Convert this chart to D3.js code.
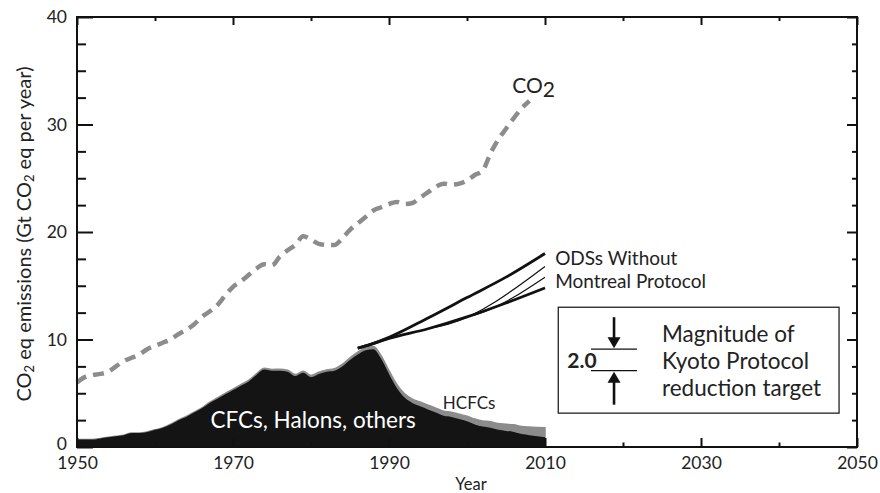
<!DOCTYPE html>
<html>
<head>
<meta charset="utf-8">
<script src="https://cdn.jsdelivr.net/npm/d3@7"></script>
<style>
  body { margin: 0; background: #fff; }
  text { font-family: Lato, "Open Sans", sans-serif; fill: #222; }
</style>
</head>
<body>
<svg id="chart" width="880" height="493"></svg>
<script>
// fossil CO2 emissions, Gt CO2 eq per year
const co2Years = d3.range(1950, 2009);
const co2Values = [
  6.0, 6.5, 6.7, 6.8, 7.0, 7.5, 8.0, 8.3, 8.6, 9.1,
  9.4, 9.7, 10.0, 10.5, 10.9, 11.4, 12.1, 12.6, 13.2, 14.1,
  14.9, 15.4, 16.0, 16.6, 17.0, 16.9, 17.7, 18.3, 18.8, 19.6,
  19.3, 18.9, 18.8, 18.8, 19.4, 20.2, 20.8, 21.4, 22.0, 22.3,
  22.6, 22.8, 22.6, 22.7, 23.2, 23.7, 24.2, 24.5, 24.4, 24.5,
  24.8, 25.3, 25.7, 27.3, 28.6, 29.6, 30.6, 31.5, 32.2,
];

// ODS emissions (stacked)
const odsYears = d3.range(1950, 2011);
const cfcValues = [
  0.7, 0.7, 0.7, 0.8, 0.9, 1.0, 1.1, 1.3, 1.3, 1.4,
  1.6, 1.8, 2.1, 2.5, 2.8, 3.2, 3.6, 4.1, 4.5, 4.9,
  5.3, 5.7, 6.1, 6.7, 7.2, 7.1, 7.1, 7.0, 6.6, 6.9,
  6.5, 6.8, 7.0, 7.1, 7.5, 8.1, 8.6, 9.0, 9.1, 8.2,
  6.8, 5.5, 4.6, 4.1, 3.8, 3.5, 3.2, 2.9, 2.8, 2.6,
  2.4, 2.1, 1.9, 1.8, 1.6, 1.5, 1.4, 1.2, 1.1, 1.0,
  0.9,
];
const hcfcValues = [
  0.0, 0.0, 0.0, 0.0, 0.0, 0.0, 0.0, 0.0, 0.0, 0.0,
  0.0, 0.0, 0.02, 0.03, 0.04, 0.05, 0.05, 0.06, 0.07, 0.08,
  0.09, 0.1, 0.1, 0.1, 0.12, 0.12, 0.13, 0.14, 0.15, 0.15,
  0.16, 0.16, 0.17, 0.18, 0.19, 0.2, 0.22, 0.24, 0.26, 0.28,
  0.3, 0.32, 0.34, 0.36, 0.38, 0.4, 0.42, 0.43, 0.44, 0.45,
  0.47, 0.5, 0.52, 0.55, 0.58, 0.62, 0.66, 0.7, 0.75, 0.82,
  0.9,
];

// ODS emissions without Montreal Protocol (scenario range)
const noMpUpperYears = [1986, 1987, 1990, 1995, 2000, 2005, 2010];
const noMpUpper = [9.2, 9.4, 10.2, 12.0, 13.9, 15.8, 18.0];
const noMpLowerYears = [1986, 1987, 1990, 1995, 2000, 2005, 2010];
const noMpLower = [9.2, 9.4, 10.1, 11.0, 12.1, 13.4, 14.8];
const noMpMid1Years = [1986, 1987, 1990, 1995, 1997.5, 2010];
const noMpMid1 = [9.2, 9.4, 10.1, 11.0, 11.4, 16.8];
const noMpMid2Years = [1986, 1987, 1990, 1995, 2000, 2001.5, 2010];
const noMpMid2 = [9.2, 9.4, 10.1, 11.0, 12.1, 12.4, 15.8];

const xMajorTicks = [1950, 1970, 1990, 2010, 2030, 2050];
const xMinorTicks = [1960, 1980, 2000, 2020, 2040];
const yMajorTicks = [0, 10, 20, 30, 40];
const yMinorTicks = [2.5, 5, 7.5, 12.5, 15, 17.5, 22.5, 25, 27.5, 32.5, 35, 37.5];

const margin = { top: 17, right: 23, bottom: 46, left: 77 };
const svg = d3.select('#chart');
const width = +svg.attr('width') - margin.left - margin.right;
const height = +svg.attr('height') - margin.top - margin.bottom;

const xScale = d3.scaleLinear().domain([1950, 2050]).range([0, width]);
const yScale = d3.scaleLinear().domain([0, 40]).range([height, 0]);

const g = svg.append('g')
  .attr('transform', `translate(${margin.left},${margin.top})`);

// stacked ODS areas
const odsRows = odsYears.map((yr, i) => ({ year: yr, cfc: cfcValues[i], hcfc: hcfcValues[i] }));
const stacked = d3.stack().keys(['cfc', 'hcfc'])(odsRows);
const area = d3.area()
  .x(d => xScale(d.data.year))
  .y0(d => yScale(d[0]))
  .y1(d => yScale(d[1]))
  .curve(d3.curveMonotoneX);
const areaColors = { cfc: '#141414', hcfc: '#8c8c8c' };

// hcfc drawn first with a grey edge so the thin band shows on top of the black
g.append('path')
  .datum(stacked[1])
  .attr('fill', areaColors.hcfc)
  .attr('stroke', areaColors.hcfc)
  .attr('stroke-width', 1.5)
  .attr('d', area);
g.append('path')
  .datum(stacked[0])
  .attr('fill', areaColors.cfc)
  .attr('d', area);

// no-Montreal-Protocol scenario lines
const scenLine = d3.line()
  .x(d => xScale(d[0]))
  .y(d => yScale(d[1]))
  .curve(d3.curveMonotoneX);
const scenarios = [
  { yrs: noMpMid1Years, vals: noMpMid1, w: 1.2 },
  { yrs: noMpMid2Years, vals: noMpMid2, w: 1.2 },
  { yrs: noMpUpperYears, vals: noMpUpper, w: 2.8 },
  { yrs: noMpLowerYears, vals: noMpLower, w: 2.8 },
];
scenarios.forEach((s) => {
  g.append('path')
    .datum(s.yrs.map((yr, i) => [yr, s.vals[i]]))
    .attr('fill', 'none')
    .attr('stroke', '#111')
    .attr('stroke-width', s.w)
    .attr('d', scenLine);
});

// CO2 dashed line
const co2Line = d3.line()
  .x((d, i) => xScale(co2Years[i]))
  .y(d => yScale(d))
  .curve(d3.curveMonotoneX);
g.append('path')
  .datum(co2Values)
  .attr('fill', 'none')
  .attr('stroke', '#8c8c8c')
  .attr('stroke-width', 4.5)
  .attr('stroke-dasharray', '11,7')
  .attr('d', co2Line);

// Kyoto box
const box = g.append('g');
box.append('rect')
  .attr('x', xScale(2011.7))
  .attr('y', yScale(13.0))
  .attr('width', xScale(2047.7) - xScale(2011.7))
  .attr('height', yScale(3.15) - yScale(13.0))
  .attr('fill', '#fff')
  .attr('stroke', '#222')
  .attr('stroke-width', 1.3);

// the 2.0 Gt bar is drawn on the same y scale
const kyotoMid = 8.1;
const kyotoTarget = 2.0;
const barX0 = xScale(2015.9);
const barX1 = xScale(2021.8);
const barXc = (barX0 + barX1) / 2;
const yTop = yScale(kyotoMid + kyotoTarget / 2);
const yBot = yScale(kyotoMid - kyotoTarget / 2);
[yTop, yBot].forEach((yy) => {
  box.append('line')
    .attr('x1', barX0).attr('x2', barX1)
    .attr('y1', yy).attr('y2', yy)
    .attr('stroke', '#111').attr('stroke-width', 1.2);
});
const arrowLen = 32;
// down arrow above, up arrow below
box.append('line')
  .attr('x1', barXc).attr('x2', barXc)
  .attr('y1', yTop - arrowLen).attr('y2', yTop - 8)
  .attr('stroke', '#111').attr('stroke-width', 2.6);
box.append('path')
  .attr('d', `M${barXc - 6.5},${yTop - 12} L${barXc + 6.5},${yTop - 12} L${barXc},${yTop - 1} Z`)
  .attr('fill', '#111');
box.append('line')
  .attr('x1', barXc).attr('x2', barXc)
  .attr('y1', yBot + 8).attr('y2', yBot + arrowLen + 2)
  .attr('stroke', '#111').attr('stroke-width', 2.6);
box.append('path')
  .attr('d', `M${barXc - 6.5},${yBot + 12} L${barXc + 6.5},${yBot + 12} L${barXc},${yBot + 1} Z`)
  .attr('fill', '#111');
box.append('text')
  .attr('x', xScale(2011.7) + 9)
  .attr('y', yBot - 3)
  .style('font-size', '21px')
  .style('font-weight', 'bold')
  .text(kyotoTarget.toFixed(1));
const boxLines = ['Magnitude of', 'Kyoto Protocol', 'reduction target'];
box.append('text')
  .attr('y', yTop - 7)
  .style('font-size', '22.5px')
  .selectAll('tspan')
  .data(boxLines)
  .enter()
  .append('tspan')
  .attr('x', xScale(2025))
  .attr('dy', (d, i) => (i === 0 ? 0 : 27))
  .text(d => d);

// frame
g.append('rect')
  .attr('width', width)
  .attr('height', height)
  .attr('fill', 'none')
  .attr('stroke', '#111')
  .attr('stroke-width', 2);

// axes with inward ticks
const bottomMajor = d3.axisBottom(xScale).tickValues(xMajorTicks).tickSizeInner(-9).tickSizeOuter(0).tickPadding(10).tickFormat(d3.format('d'));
const bottomMinor = d3.axisBottom(xScale).tickValues(xMinorTicks).tickSizeInner(-4.5).tickSizeOuter(0).tickFormat('');
const topMajor = d3.axisTop(xScale).tickValues(xMajorTicks).tickSizeInner(-8).tickSizeOuter(0).tickFormat('');
const topMinor = d3.axisTop(xScale).tickValues(xMinorTicks).tickSizeInner(-4).tickSizeOuter(0).tickFormat('');
const leftMajor = d3.axisLeft(yScale).tickValues(yMajorTicks).tickSizeInner(-16).tickSizeOuter(0).tickPadding(10);
const leftMinor = d3.axisLeft(yScale).tickValues(yMinorTicks).tickSizeInner(-9).tickSizeOuter(0).tickFormat('');
const rightMajor = d3.axisRight(yScale).tickValues(yMajorTicks).tickSizeInner(-10).tickSizeOuter(0).tickFormat('');
const rightMinor = d3.axisRight(yScale).tickValues(yMinorTicks).tickSizeInner(-5).tickSizeOuter(0).tickFormat('');

const axisGroups = [
  [bottomMajor, `translate(0,${height})`],
  [bottomMinor, `translate(0,${height})`],
  [topMajor, 'translate(0,0)'],
  [topMinor, 'translate(0,0)'],
  [leftMajor, 'translate(0,0)'],
  [leftMinor, 'translate(0,0)'],
  [rightMajor, `translate(${width},0)`],
  [rightMinor, `translate(${width},0)`],
];
axisGroups.forEach(([ax, tr]) => {
  const a = g.append('g').attr('transform', tr).call(ax);
  a.select('.domain').remove();
  a.selectAll('line').attr('stroke', '#111').attr('stroke-width', 2);
  a.selectAll('text').style('font-size', '17.5px').style('font-family', 'Lato, sans-serif').attr('fill', '#222');
});
// lift the zero label a little so it clears the 1950 label underneath
g.selectAll('.tick text').filter(d => d === 0).attr('dy', '0.15em');

// axis titles
g.append('text')
  .attr('x', xScale(2000) + 4)
  .attr('y', height + 43)
  .attr('text-anchor', 'middle')
  .style('font-size', '16.5px')
  .text('Year');

const yTitle = svg.append('text')
  .attr('transform', `translate(31,${margin.top + height / 2 + 2}) rotate(-90)`)
  .attr('text-anchor', 'middle')
  .style('font-size', '20px');
[['CO', 0], ['2', 1], [' eq emissions (Gt CO', 0], ['2', 1], [' eq per year)', 0]].forEach(([t, sub]) => {
  yTitle.append('tspan')
    .attr('baseline-shift', sub ? '-25%' : null)
    .style('font-size', sub ? '13px' : null)
    .text(t);
});

// series labels
const co2Label = g.append('text')
  .attr('x', xScale(2005.8))
  .attr('y', yScale(32.2) - 8)
  .style('font-size', '21px');
co2Label.append('tspan').text('CO');
co2Label.append('tspan').attr('dy', 4).text('2');

g.append('text')
  .attr('x', xScale(1967.1))
  .attr('y', yScale(1.8))
  .style('font-size', '22.5px')
  .style('fill', '#fff')
  .text('CFCs, Halons, others');

g.append('text')
  .attr('x', xScale(1996.9))
  .attr('y', yScale(3.5))
  .style('font-size', '17px')
  .text('HCFCs');

g.append('text')
  .attr('x', xScale(2011.3))
  .attr('y', yScale(16.9))
  .style('font-size', '19px')
  .text('ODSs Without');
g.append('text')
  .attr('x', xScale(2011.3))
  .attr('y', yScale(14.8))
  .style('font-size', '19px')
  .text('Montreal Protocol');
</script>
</body>
</html>
